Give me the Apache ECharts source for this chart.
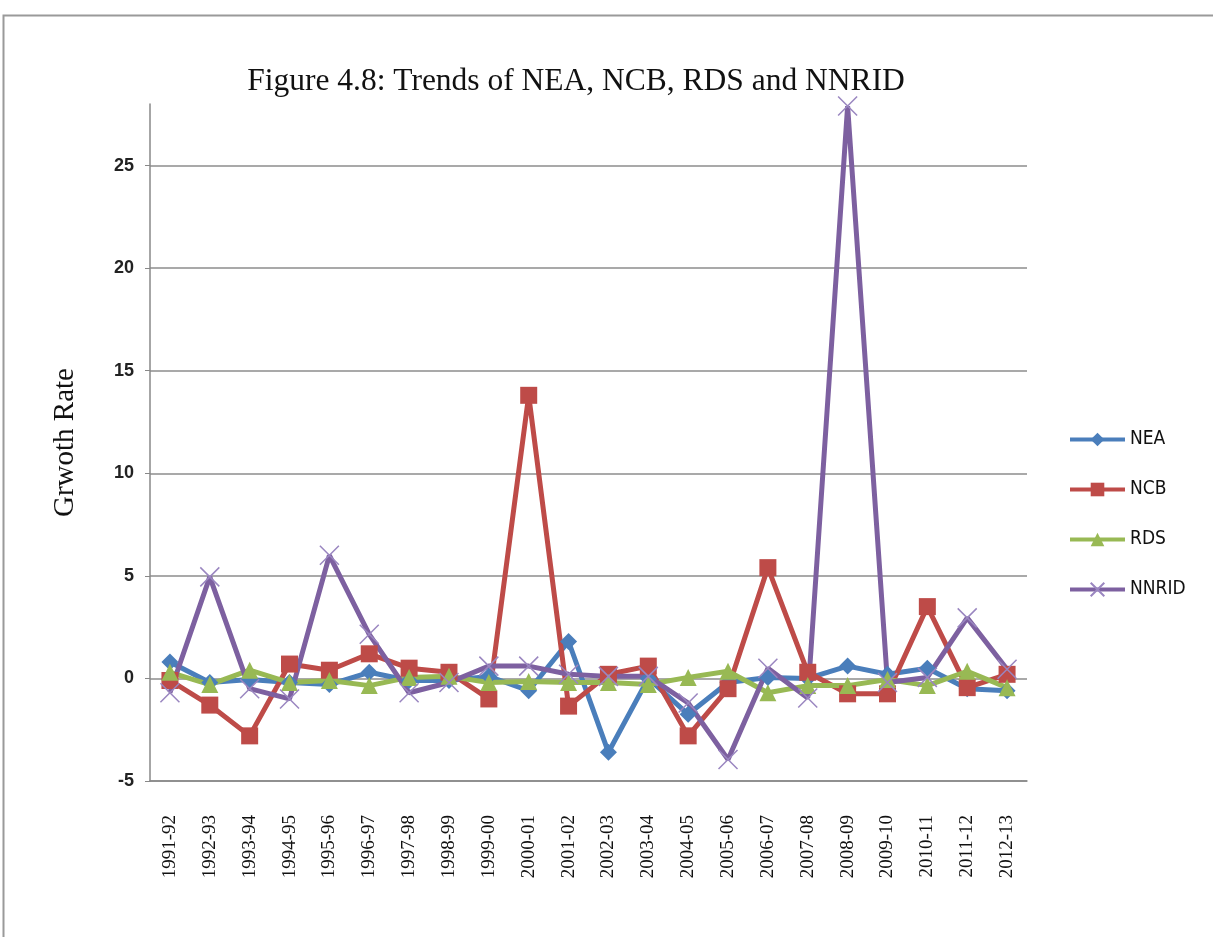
<!DOCTYPE html>
<html>
<head>
<meta charset="utf-8">
<script src="https://cdn.jsdelivr.net/npm/echarts@6/dist/echarts.min.js"></script>
<style>
  html, body { margin: 0; padding: 0; background: #ffffff; }
  #chart { width: 1213px; height: 937px; }
</style>
</head>
<body>
<div id="chart"></div>
<script>
// Financial years
const years = ['1991-92','1992-93','1993-94','1994-95','1995-96','1996-97','1997-98','1998-99','1999-00','2000-01','2001-02','2002-03','2003-04','2004-05','2005-06','2006-07','2007-08','2008-09','2009-10','2010-11','2011-12','2012-13'];

// Growth rates by series
const nea   = [0.8, -0.2, -0.05, -0.2, -0.3, 0.3, -0.1, -0.1, 0.1, -0.6, 1.8, -3.6, 0.0, -1.75, -0.2, 0.05, 0.0, 0.6, 0.2, 0.5, -0.5, -0.6];
const ncb   = [-0.1, -1.3, -2.8, 0.7, 0.4, 1.2, 0.5, 0.3, -1.0, 13.8, -1.35, 0.2, 0.6, -2.8, -0.5, 5.4, 0.3, -0.75, -0.75, 3.5, -0.45, 0.2];
const rds   = [0.3, -0.3, 0.4, -0.2, -0.1, -0.35, 0.05, 0.1, -0.2, -0.15, -0.2, -0.2, -0.3, 0.05, 0.35, -0.7, -0.35, -0.35, -0.05, -0.35, 0.35, -0.45];
const nnrid = [-0.7, 4.95, -0.5, -1.0, 6.0, 2.15, -0.7, -0.2, 0.6, 0.6, 0.2, 0.1, 0.1, -1.2, -3.95, 0.5, -0.95, 27.9, -0.2, 0.05, 2.95, 0.45];

const yMin = -5, yMax = 28, yStep = 5;

const chart = echarts.init(document.getElementById('chart'), null, { renderer: 'canvas' });

const crossMark = 'path://M0,0L10,10M10,0L0,10';
const sansNarrow = "'Liberation Sans Narrow', 'DejaVu Sans Condensed', 'Liberation Sans', sans-serif";

function lineSeries(name, data, color, symbol, size, extraItem) {
  return {
    name: name,
    type: 'line',
    data: data,
    color: color,
    symbol: symbol,
    symbolSize: size,
    showAllSymbol: true,
    lineStyle: { color: color, width: 5 },
    itemStyle: Object.assign({ color: color }, extraItem || {}),
    emphasis: { disabled: true },
    animation: false
  };
}

chart.setOption({
  backgroundColor: '#ffffff',
  animation: false,
  title: {
    text: 'Figure 4.8: Trends of NEA, NCB, RDS and NNRID',
    left: 571,
    top: 61,
    textAlign: 'center',
    textStyle: { fontFamily: 'Liberation Serif', fontSize: 31.5, fontWeight: 'normal', color: '#111' }
  },
  legend: {
    orient: 'vertical',
    left: 1063,
    top: 425,
    itemGap: 31,
    itemWidth: 55,
    itemHeight: 17,
    lineStyle: { width: 4 },
    textStyle: { fontFamily: sansNarrow, fontSize: 19, color: '#111' },
    data: ['NEA', 'NCB', 'RDS', 'NNRID']
  },
  grid: { left: 150, right: 186, top: 104, bottom: 156 },
  xAxis: {
    type: 'category',
    data: years,
    boundaryGap: true,
    axisLine: { show: true, onZero: false, lineStyle: { color: '#888', width: 1.5 } },
    axisTick: { show: false },
    axisLabel: {
      rotate: 90,
      interval: 0,
      margin: 34,
      fontFamily: 'Liberation Serif',
      fontSize: 19,
      color: '#111'
    }
  },
  yAxis: {
    type: 'value',
    min: yMin,
    max: yMax,
    interval: yStep,
    name: 'Grwoth Rate',
    nameLocation: 'middle',
    nameGap: 70,
    nameRotate: 90,
    nameTextStyle: { fontFamily: 'Liberation Serif', fontSize: 29, color: '#111' },
    axisLine: { show: true, lineStyle: { color: '#888', width: 1.5 } },
    axisTick: { show: true, inside: false, length: 5, lineStyle: { color: '#888' } },
    axisLabel: {
      showMaxLabel: false,
      margin: 16,
      fontFamily: 'Liberation Sans',
      fontWeight: 'bold',
      fontSize: 18,
      color: '#222'
    },
    splitLine: {
      show: true,
      lineStyle: { color: ['#8c8c8c', '#8c8c8c', '#8c8c8c', '#8c8c8c', '#8c8c8c', '#8c8c8c', '#8c8c8c', 'rgba(0,0,0,0)'], width: 1.5 }
    }
  },
  graphic: [{
    type: 'rect',
    shape: { x: 3.5, y: 15.5, width: 1300, height: 1000 },
    style: { fill: 'none', stroke: '#9a9a9a', lineWidth: 2 },
    silent: true
  }],
  series: [
    lineSeries('NEA', nea, '#4a7ebb', 'diamond', 17),
    lineSeries('NCB', ncb, '#be4b48', 'rect', 17),
    lineSeries('RDS', rds, '#98b954', 'triangle', 17),
    lineSeries('NNRID', nnrid, '#7d60a0', crossMark, 19, { color: 'none', borderColor: '#9a86c0', borderWidth: 1.5 })
  ]
});
</script>
</body>
</html>
